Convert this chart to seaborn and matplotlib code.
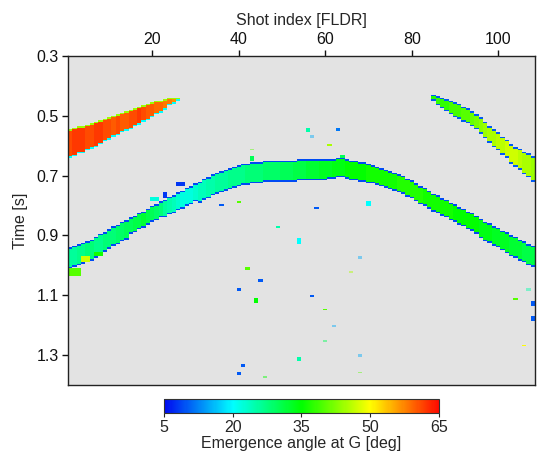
import numpy as np
import pandas as pd
import matplotlib
matplotlib.use("Agg")
import matplotlib.pyplot as plt
import seaborn as sns
from matplotlib.colors import LinearSegmentedColormap

# ---------------- data ----------------
shots = list(range(1, 109))
t_start, t_step, n_rows = 0.30, 0.005, 220

# main arched event: top time [s], thickness [s], angle [deg] per shot
arch_top = [0.94, 0.935, 0.93, 0.925, 0.92, 0.915, 0.905, 0.895, 0.89, 0.88,
            0.87, 0.865, 0.855, 0.85, 0.84, 0.835, 0.825, 0.82, 0.81, 0.80,
            0.795, 0.785, 0.78, 0.77, 0.765, 0.755, 0.75, 0.74, 0.735, 0.725,
            0.72, 0.71, 0.705, 0.695, 0.69, 0.685, 0.68, 0.675, 0.67, 0.665,
            0.66, 0.66, 0.655, 0.655, 0.655, 0.65, 0.65, 0.65, 0.65, 0.65,
            0.65, 0.65, 0.65, 0.645, 0.645, 0.645, 0.645, 0.645, 0.645, 0.645,
            0.645, 0.645, 0.64, 0.64, 0.645, 0.65, 0.65, 0.655, 0.655, 0.66,
            0.665, 0.67, 0.675, 0.68, 0.685, 0.69, 0.695, 0.70, 0.71, 0.715,
            0.725, 0.735, 0.74, 0.75, 0.76, 0.765, 0.775, 0.78, 0.79, 0.795,
            0.805, 0.81, 0.82, 0.825, 0.835, 0.845, 0.855, 0.86, 0.87, 0.875,
            0.885, 0.89, 0.90, 0.905, 0.915, 0.92, 0.93, 0.935]
arch_thick = [0.07, 0.07, 0.07, 0.07, 0.07, 0.07, 0.07,
              0.065, 0.065, 0.065, 0.065, 0.065, 0.065, 0.065,
              0.055, 0.055, 0.055, 0.055, 0.055, 0.055, 0.055, 0.055,
              0.06, 0.06, 0.06, 0.06, 0.06, 0.06, 0.06, 0.06,
              0.07, 0.07, 0.07, 0.07, 0.07, 0.07, 0.07, 0.07, 0.07, 0.07,
              0.07, 0.07, 0.07, 0.07, 0.07,
              0.07, 0.07, 0.07, 0.07, 0.07, 0.07, 0.07, 0.07, 0.07, 0.07,
              0.07, 0.07, 0.07, 0.07, 0.07,
              0.065, 0.065, 0.065, 0.065, 0.065, 0.065, 0.065, 0.065, 0.065, 0.065,
              0.06, 0.06, 0.06, 0.06, 0.06, 0.06, 0.06, 0.06,
              0.06, 0.06, 0.06, 0.06, 0.06, 0.06, 0.06, 0.06, 0.06, 0.06,
              0.06, 0.06, 0.06, 0.06, 0.06, 0.06, 0.06,
              0.065, 0.065, 0.065, 0.065, 0.065, 0.065,
              0.07, 0.07, 0.07, 0.07, 0.07, 0.07, 0.07]
arch_angle = [26, 26, 27, 27, 28, 28, 27, 27, 28, 28,
              28, 29, 29, 30, 30, 31, 31, 32, 31, 30,
              29, 28, 26, 25, 24, 23, 22, 22, 22, 23,
              24, 24, 25, 25, 26, 26, 26, 27, 27, 27,
              27, 28, 28, 28, 28, 29, 29, 29, 29, 30,
              30, 30, 31, 31, 31, 32, 32, 32, 33, 33,
              33, 34, 34, 34, 35, 35, 35, 35, 35, 36,
              36, 36, 36, 36, 36, 36, 37, 37, 37, 37,
              37, 37, 36, 36, 36, 36, 36, 36, 36, 35,
              35, 35, 35, 35, 35, 34, 34, 34, 33, 33,
              33, 33, 32, 32, 32, 31, 31, 31]
arch_edge = 9

# early steep event (upper left)
red_shots = list(range(1, 27))
red_top = [0.545, 0.54, 0.535, 0.535, 0.53, 0.525, 0.52, 0.515, 0.51, 0.505,
           0.50, 0.495, 0.49, 0.485, 0.48, 0.475, 0.47, 0.465, 0.46, 0.455,
           0.45, 0.45, 0.445, 0.44, 0.44, 0.44]
red_thick = [0.095, 0.095, 0.09, 0.09, 0.085, 0.085, 0.085, 0.08, 0.075, 0.075,
             0.07, 0.07, 0.065, 0.065, 0.065, 0.06, 0.06, 0.055, 0.055, 0.05,
             0.045, 0.04, 0.035, 0.025, 0.02, 0.01]
red_angle = [61, 62, 62, 62, 61, 61, 62, 62, 61, 61,
             60, 61, 60, 60, 61, 61, 62, 61, 60, 60,
             59, 59, 58, 58, 57, 57]
red_edge_top, red_edge_bottom = 44, 20

# steep event (upper right)
right_shots = list(range(85, 109))
right_top = [0.43, 0.435, 0.44, 0.445, 0.45, 0.455, 0.46, 0.47, 0.475, 0.485,
             0.495, 0.505, 0.52, 0.535, 0.545, 0.555, 0.57, 0.58, 0.595, 0.605,
             0.61, 0.62, 0.625, 0.635]
right_thick = [0.02, 0.03, 0.035, 0.04, 0.045, 0.05, 0.05, 0.05, 0.05, 0.05,
               0.05, 0.055, 0.055, 0.055, 0.06, 0.06, 0.06, 0.06, 0.065, 0.065,
               0.07, 0.075, 0.08, 0.085]
right_angle = [37, 38, 38, 38, 39, 39, 39, 40, 40, 41,
               42, 43, 44, 45, 45, 46, 46, 47, 47, 47,
               46, 45, 45, 44]
right_edge = 10

# small patches on the arched event: shot from, shot to, t from, t to, angle
patches = [(1, 3, 1.01, 1.035, 40), (4, 5, 0.97, 0.99, 47), (7, 8, 0.955, 0.97, 36),
           (20, 21, 0.77, 0.785, 22), (23, 23, 0.755, 0.775, 8), (26, 27, 0.72, 0.735, 8),
           (43, 43, 0.635, 0.65, 30), (64, 64, 0.63, 0.64, 30)]

# isolated picks: shot, time, angle, number of samples
spots_solid = [(56, 0.54, 25, 3), (63, 0.54, 12, 2), (61, 0.595, 45, 1), (70, 0.785, 20, 3),
               (54, 0.91, 20, 4), (57, 1.10, 10, 1), (60, 1.145, 40, 1), (54, 1.305, 25, 3),
               (104, 1.11, 40, 1), (108, 1.12, 10, 3), (108, 1.17, 10, 3), (106, 1.265, 50, 1),
               (42, 1.005, 40, 2), (45, 1.045, 10, 2), (40, 1.075, 10, 2), (44, 1.11, 35, 3),
               (41, 1.33, 10, 2), (40, 1.355, 10, 2), (58, 0.805, 10, 1), (36, 0.795, 10, 1),
               (40, 0.785, 40, 1), (49, 0.87, 25, 1)]
spots_faint = [(57, 0.565, 15, 2), (43, 0.61, 40, 1), (68, 0.97, 15, 2), (66, 1.02, 45, 1),
               (62, 1.20, 15, 1), (60, 1.25, 30, 1), (68, 1.295, 15, 2), (68, 1.355, 40, 1),
               (107, 1.075, 25, 2), (46, 1.37, 35, 1)]

x_ticks = [20, 40, 60, 80, 100]
y_ticks = [0.3, 0.5, 0.7, 0.9, 1.1, 1.3]
cbar_ticks = [5, 20, 35, 50, 65]
vmin, vmax = 5, 65

# ---------------- build grids ----------------
def row_of(t):
    return int(round((t - t_start) / t_step))

grid = np.full((n_rows, len(shots)), np.nan)
faint = np.full((n_rows, len(shots)), np.nan)

def paint_band(sl, tops, thicks, angles, e_top, e_bot):
    for s, top, th, a in zip(sl, tops, thicks, angles):
        c = shots.index(s)
        r0 = row_of(top)
        r1 = max(row_of(top + th), r0 + 1)
        grid[r0:r1, c] = a
        grid[r0, c] = e_top
        if r1 - 1 > r0:
            grid[r1 - 1, c] = e_bot

paint_band(shots, arch_top, arch_thick, arch_angle, arch_edge, arch_edge)
for s0, s1, t0, t1, v in patches:
    grid[row_of(t0):row_of(t1), s0 - 1:s1] = v
paint_band(red_shots, red_top, red_thick, red_angle, red_edge_top, red_edge_bottom)
paint_band(right_shots, right_top, right_thick, right_angle, right_edge, right_edge)
for s, t, v, n in spots_solid:
    grid[row_of(t):row_of(t) + n, s - 1] = v
for s, t, v, n in spots_faint:
    faint[row_of(t):row_of(t) + n, s - 1] = v

times = [round(t_start + i * t_step, 3) for i in range(n_rows)]
df = pd.DataFrame(grid, index=times, columns=shots)
df_faint = pd.DataFrame(faint, index=times, columns=shots)

# ---------------- plot ----------------
sns.set_style("white")
plt.rcParams["font.family"] = ["Liberation Sans", "DejaVu Sans"]

cmap = LinearSegmentedColormap.from_list(
    "rb", ["#0008f0", "#00ffff", "#00ff00", "#ffff00", "#ff0a00"])

fig = plt.figure(figsize=(5.37, 4.63), dpi=100)
ax = fig.add_axes([0.1266, 0.1685, 0.8697, 0.7106])
cax = fig.add_axes([0.3054, 0.108, 0.512, 0.0302])
ax.set_facecolor("#e3e3e3")

sns.heatmap(df, ax=ax, cmap=cmap, vmin=vmin, vmax=vmax, cbar_ax=cax,
            cbar_kws={"orientation": "horizontal", "ticks": cbar_ticks},
            xticklabels=False, yticklabels=False)
sns.heatmap(df_faint, ax=ax, cmap=cmap, vmin=vmin, vmax=vmax, cbar=False,
            alpha=0.45, xticklabels=False, yticklabels=False)

ax.set_xticks([s - 0.5 for s in x_ticks])
ax.set_xticklabels([str(s) for s in x_ticks])
ax.set_yticks([(t - t_start) / t_step for t in y_ticks])
ax.set_yticklabels([f"{t:.1f}" for t in y_ticks], rotation=0)
ax.xaxis.tick_top()
ax.xaxis.set_label_position("top")
ax.set_xlabel("Shot index [FLDR]", fontsize=11.5, labelpad=5)
ax.set_ylabel("Time [s]", fontsize=11.5, labelpad=6)
ax.tick_params(axis="x", top=True, bottom=False, direction="out", length=4.5,
               width=1, labelsize=11.5, pad=2, colors="#111")
ax.tick_params(axis="y", left=True, direction="out", length=4.5, width=1,
               labelsize=11.5, pad=2, colors="#111")
for sp in ax.spines.values():
    sp.set_visible(True)
    sp.set_color("#222")
    sp.set_linewidth(1.0)

cbar = ax.collections[0].colorbar
cbar.outline.set_edgecolor("#333")
cbar.outline.set_linewidth(0.8)
cbar.ax.tick_params(length=3, width=0.8, labelsize=11.5, pad=2)
cbar.set_label("Emergence angle at G [deg]", fontsize=11.5, labelpad=1)

fig.savefig("out.png", dpi=100)
